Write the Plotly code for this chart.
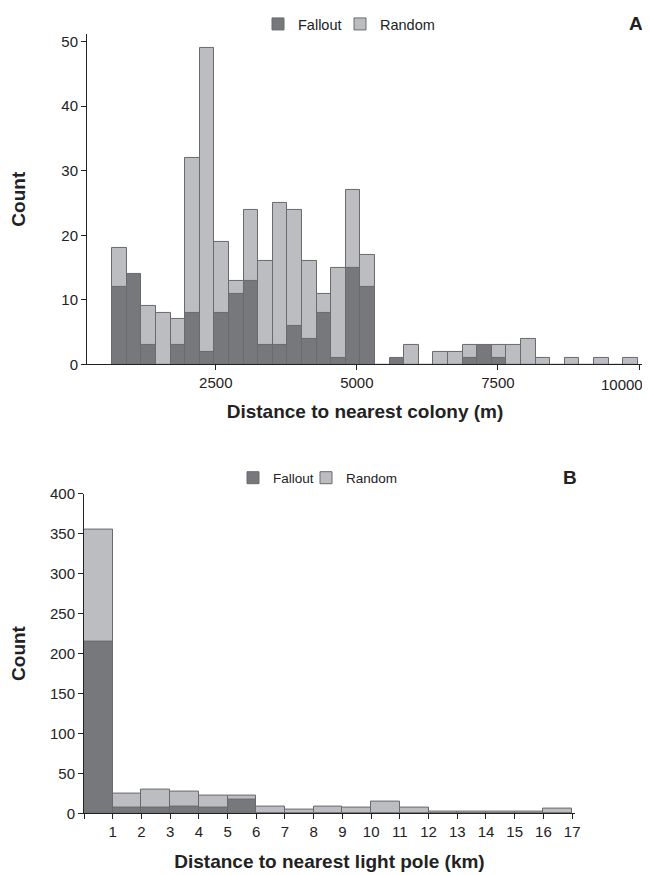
import plotly.graph_objects as go

# ---------------- data ----------------
# Panel A: distance to nearest colony (m), 36 equal-width bins
colony_bin_start = 665.0
colony_bin_width = 258.7
colony_fallout = [12, 14, 3, 0, 3, 8, 2, 8, 11, 13, 3, 3, 6, 4, 8, 1, 15, 12,
                  0, 1, 0, 0, 0, 0, 1, 3, 1, 0, 0, 0, 0, 0, 0, 0, 0, 0]
colony_random = [18, 0, 9, 8, 7, 32, 49, 19, 13, 24, 16, 25, 24, 16, 11, 15, 27, 17,
                 0, 0, 3, 0, 2, 2, 3, 0, 3, 3, 4, 1, 0, 1, 0, 1, 0, 1]
colony_ticks = [2500, 5000, 7500, 10000]

# Panel B: distance to nearest light pole (km), 1-km bins 0..17
pole_bin_edges = list(range(0, 18))
pole_fallout = [215, 7, 7, 9, 7, 17, 0, 0, 0, 0, 0, 0, 0, 0, 0, 0, 0]
pole_random = [355, 25, 30, 27, 22, 22, 8, 5, 9, 7, 15, 7, 2, 2, 2, 2, 6]
pole_tick_labels = [""] + [str(v) for v in pole_bin_edges[1:]]

series_names = ["Fallout", "Random"]

# ---------------- styles ----------------
OFF = 8                      # page body margin in the browser
W, H = 650 - OFF, 875 - OFF
FALL = "#77787c"
RAND = "#bcbdc1"
EDGE = "#6a6a6d"
AX = "#222222"
FONT = "Liberation Sans, Arial, sans-serif"


def px_x(p):
    return (p - OFF) / W


def px_y(p):
    return 1 - (p - OFF) / H


colony_centers = [colony_bin_start + (i + 0.5) * colony_bin_width for i in range(len(colony_fallout))]
pole_centers = [(pole_bin_edges[i] + pole_bin_edges[i + 1]) / 2 for i in range(len(pole_bin_edges) - 1)]
pole_widths = [pole_bin_edges[i + 1] - pole_bin_edges[i] for i in range(len(pole_bin_edges) - 1)]

# last label of panel A is drawn as an annotation so it can sit left of its tick
colony_tick_text = [str(v) for v in colony_ticks]
last_colony_label = colony_tick_text[-1]
colony_tick_text[-1] = ""

fig = go.Figure()


def add_pair(xc, wid, fall, rand, xa, ya, leg_f, leg_r):
    fig.add_trace(go.Bar(x=xc, y=rand, width=wid, name=series_names[1],
                         marker=dict(color=RAND, line=dict(color=EDGE, width=1)),
                         opacity=1, xaxis=xa, yaxis=ya, legend=leg_r,
                         hoverinfo="x+y"))
    fig.add_trace(go.Bar(x=xc, y=fall, width=wid, name=series_names[0],
                         marker=dict(color=FALL, line=dict(color=EDGE, width=1)),
                         opacity=1, xaxis=xa, yaxis=ya, legend=leg_f,
                         hoverinfo="x+y"))


add_pair(colony_centers, colony_bin_width, colony_fallout, colony_random, "x", "y", "legend2", "legend3")
add_pair(pole_centers, pole_widths, pole_fallout, pole_random, "x2", "y2", "legend4", "legend5")

axis_common = dict(showline=True, linecolor=AX, linewidth=1, ticks="outside", ticklen=5,
                   tickcolor=AX, tickwidth=1, showgrid=False, zeroline=False,
                   tickfont=dict(family=FONT, size=15, color=AX), automargin=False)
title_font = dict(family=FONT, size=19, color=AX, weight="bold")

legend_common = dict(orientation="h", xanchor="left", yanchor="middle",
                     bgcolor="rgba(0,0,0,0)", itemclick=False, itemdoubleclick=False,
                     tracegroupgap=0)
legA_font = dict(family=FONT, size=14.5, color=AX)
legB_font = dict(family=FONT, size=13.5, color=AX)

fig.update_layout(
    width=W, height=H, autosize=False,
    margin=dict(l=0, r=0, t=0, b=0),
    paper_bgcolor="white", plot_bgcolor="white",
    barmode="overlay", bargap=0,
    font=dict(family=FONT, color=AX),
    xaxis=dict(domain=[px_x(87), px_x(643)], anchor="y", range=[218, 10070],
               tickvals=colony_ticks, ticktext=colony_tick_text,
               title=dict(text="Distance to nearest colony (m)", font=title_font, standoff=14),
               **axis_common),
    yaxis=dict(domain=[px_y(363.3), px_y(32)], anchor="x", range=[0, 51.2],
               tickvals=[0, 10, 20, 30, 40, 50],
               title=dict(text="Count", font=title_font, standoff=30),
               **axis_common),
    xaxis2=dict(domain=[px_x(84), px_x(575)], anchor="y2", range=[0, 17.1],
                tickvals=pole_bin_edges, ticktext=pole_tick_labels,
                title=dict(text="Distance to nearest light pole (km)", font=title_font, standoff=15),
                **axis_common),
    yaxis2=dict(domain=[px_y(813.3), px_y(492.7)], anchor="x2", range=[0, 400],
                tickvals=[0, 50, 100, 150, 200, 250, 300, 350, 400],
                title=dict(text="Count", font=title_font, standoff=26),
                **axis_common),
    legend=dict(visible=False),
    legend2=dict(x=px_x(258), y=px_y(22), font=legA_font, **legend_common),
    legend3=dict(x=px_x(340), y=px_y(22), font=legA_font, **legend_common),
    legend4=dict(x=px_x(233), y=px_y(477), font=legB_font, **legend_common),
    legend5=dict(x=px_x(306), y=px_y(477), font=legB_font, **legend_common),
    annotations=[
        dict(text=last_colony_label, x=colony_ticks[-1], xref="x", y=px_y(383.5), yref="paper",
             xanchor="right", yanchor="middle", xshift=6, showarrow=False,
             font=dict(family=FONT, size=15, color=AX)),
        dict(text="<b>A</b>", x=px_x(645), y=px_y(22), xref="paper", yref="paper",
             xanchor="right", yanchor="middle", showarrow=False,
             font=dict(family=FONT, size=19, color=AX)),
        dict(text="<b>B</b>", x=px_x(579), y=px_y(477), xref="paper", yref="paper",
             xanchor="right", yanchor="middle", showarrow=False,
             font=dict(family=FONT, size=19, color=AX)),
    ],
)

fig.write_html("out.html")
